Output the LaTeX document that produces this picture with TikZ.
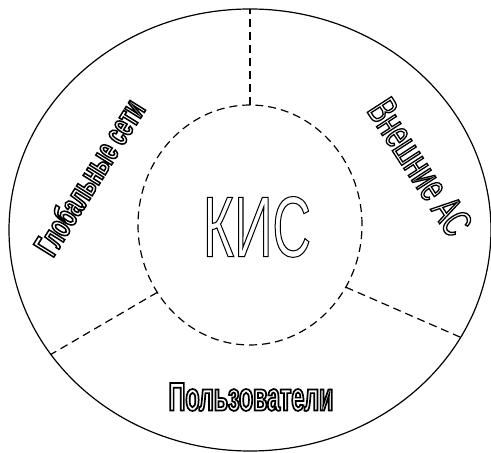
\documentclass[tikz,border=0pt]{standalone}
\usepackage{fontspec}
\setmainfont{Liberation Sans}
\newfontfamily\narrowfont[FakeStretch=0.62]{Liberation Sans}
\newfontfamily\narrowboldfont[FakeStretch=0.58]{Liberation Sans Bold}
\usepackage{tikz}
\usetikzlibrary{positioning,shapes.geometric}
\tikzset{
  zone/.style={ellipse,draw=black,line width=1.2pt,inner sep=0pt,outer sep=0pt},
  border/.style={draw=black,line width=1.2pt,dash pattern=on 8pt off 5pt},
  lab/.style={inner sep=0pt,outer sep=0pt},
}
\newcommand{\outl}[2]{\special{pdf:literal direct 1 Tr #1 w}#2\special{pdf:literal direct 0 Tr}}

\begin{document}
\begin{tikzpicture}[x=1pt,y=1pt]
\useasboundingbox (0,0) rectangle (491,453);
\node[zone,minimum width=482pt,minimum height=442pt] (outer) at (250,223) {};
\node[zone,border,minimum width=224pt,minimum height=240pt] (kis) at (250,228) {};
\draw[border] (kis.90) -- (outer.90);
\draw[border] (kis.216) -- (outer.212);
\draw[border] (kis.327) -- (outer.333);
\node[lab] (kisname) at (257,226) {\narrowfont\fontsize{86}{86}\selectfont\outl{1}{КИС}};
\node[lab,rotate=58] (global) at (89,276) {\narrowboldfont\fontsize{35}{35}\selectfont\outl{1.5}{Глобальные сети}};
\node[lab,rotate=-57] (extern) at (420,286) {\narrowfont\fontsize{42}{42}\selectfont\outl{1.3}{Внешние АС}};
\node[lab] (users) at (251,56) {\narrowboldfont\fontsize{40}{40}\selectfont\outl{1.7}{Пользователи}};
\end{tikzpicture}
\end{document}
